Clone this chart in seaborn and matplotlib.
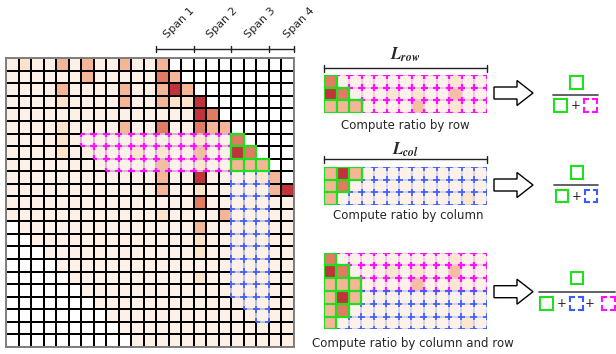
import numpy as np
import matplotlib
matplotlib.use("Agg")
import matplotlib.pyplot as plt
import seaborn as sns
from matplotlib.colors import ListedColormap
from matplotlib.collections import LineCollection
from matplotlib.patches import Rectangle, FancyArrow

sns.set_theme(style="white")
plt.rcParams['font.family'] = ['DejaVu Sans']
plt.rcParams['mathtext.fontset'] = 'stix'

# ---------------------------------------------------------------- data
# attention score level per cell: '.' = outside the window, 1 (faint) .. 5 (strongest)
attn_rows = [
    "1211313113113..........",
    "11111131111143.........",
    "111131111311353........",
    "1111211113113225.......",
    "11111111111111154......",
    "111121111311411433.....",
    "1111211111111112114....",
    "11112111112121131154...",
    "111111111111311211333..",
    "1111111111113115111123.",
    "11111111111131121111135",
    "11111111111111141111111",
    "11111111111121111311111",
    ".1111111111111131111111",
    "..111111111111121111111",
    "...11111111111121111111",
    "....1111111111111111111",
    ".....111111111121111111",
    "......11111111111111111",
    ".......1111111111111111",
    "........111111111111111",
    ".........11111111111111",
    "..........1111111111111",
]
# rows of the current block gathered along the row / along the column
row_panel = [
    "4111111111211",
    "5411121211311",
    "3331111311211",
]
col_panel = [
    "3531111111111",
    "3411111111111",
    "3111111111121",
]
level_colors = ["#ffffff", "#fdf0e6", "#fde3c9", "#f4b697", "#e17c63", "#c1323a"]

span_labels = ["Span 1", "Span 2", "Span 3", "Span 4"]
span_edges = [12, 15, 18, 21, 23]
captions = ["Compute ratio by row", "Compute ratio by column",
            "Compute ratio by column and row"]
length_labels = [r"$\mathbfit{L}_{\mathbfit{row}}$", r"$\mathbfit{L}_{\mathbfit{col}}$"]

block_rows = [6, 7, 8]
block_cols = [18, 19, 20]

GREEN = "#1fe01f"
MAGENTA = "#ff10ff"
BLUE = "#3a5cff"
FAINT = {MAGENTA: "#f2c4e6", BLUE: "#cbd0ef"}

W, H = 616, 354


def parse(rows):
    return np.array([[0 if ch == "." else int(ch) for ch in r] for r in rows])


def cell_edges(cells):
    edges = set()
    for r, c in cells:
        edges |= {((c, r), (c + 1, r)), ((c, r + 1), (c + 1, r + 1)),
                  ((c, r), (c, r + 1)), ((c + 1, r), (c + 1, r + 1))}
    return sorted(edges)


def dashed_region(ax, cells, color, lw, arm=0.28):
    for r, c in cells:
        ax.add_patch(Rectangle((c, r), 1, 1, facecolor="white", alpha=0.12,
                               lw=0, zorder=3))
    edges = cell_edges(cells)
    ax.add_collection(LineCollection(edges, colors=FAINT[color], linewidths=1.3,
                                     zorder=4))
    segs = []
    for (x0, y0), (x1, y1) in edges:
        dx, dy = x1 - x0, y1 - y0
        segs.append([(x0, y0), (x0 + arm * dx, y0 + arm * dy)])
        segs.append([(x1, y1), (x1 - arm * dx, y1 - arm * dy)])
    ax.add_collection(LineCollection(segs, colors=color, linewidths=lw,
                                     zorder=5, capstyle="butt"))


def green_region(ax, cells):
    ax.add_collection(LineCollection(cell_edges(cells), colors=GREEN,
                                     linewidths=1.6, zorder=6,
                                     capstyle="projecting"))


def px_axes(x0, y0, w, h):
    return fig.add_axes([x0 / W, 1 - (y0 + h) / H, w / W, h / H])


def draw_grid(ax, rows, lw):
    sns.heatmap(parse(rows), ax=ax, cmap=ListedColormap(level_colors),
                vmin=-0.5, vmax=5.5, cbar=False, linewidths=lw,
                linecolor="black", xticklabels=False, yticklabels=False)


fig = plt.figure(figsize=(W / 100, H / 100), dpi=100)

# ---------------------------------------------------------------- main grid
ax = px_axes(6, 58.3, 288, 288.5)
draw_grid(ax, attn_rows, 1.1)
for s in ax.spines.values():
    s.set_visible(True)
    s.set_color("#808080")
    s.set_linewidth(1.4)

green = [(r, c) for r in block_rows for c in block_cols
         if c - block_cols[0] <= r - block_rows[0]]
magenta = [(r, c) for r in block_rows for c in range(r, block_cols[0])]
blue = [(r, c) for c in block_cols for r in range(block_rows[-1] + 1, c + 1)]
dashed_region(ax, magenta, MAGENTA, 1.6)
dashed_region(ax, blue, BLUE, 1.2)
green_region(ax, green)

# span bracket above the grid
ax.plot([span_edges[0], span_edges[-1]], [-0.72, -0.72], color="#222", lw=1.0,
        clip_on=False)
for e in span_edges:
    ax.plot([e, e], [-0.95, -0.49], color="#222", lw=1.0, clip_on=False)

# ---------------------------------------------------------------- side panels
n_cols = len(row_panel[0])
ax1 = px_axes(324, 75, 163, 37.6)
draw_grid(ax1, row_panel, 0)
g1 = [(r, c) for r in range(3) for c in range(n_cols) if c <= r]
dashed_region(ax1, [(r, c) for r in range(3) for c in range(n_cols) if c > r],
              MAGENTA, 1.6)
green_region(ax1, g1)

ax2 = px_axes(324, 167, 163, 37.6)
draw_grid(ax2, col_panel, 0)
g2 = [(r, c) for r in range(3) for c in range(n_cols) if c <= 2 - r]
dashed_region(ax2, [(r, c) for r in range(3) for c in range(n_cols) if c > 2 - r],
              BLUE, 1.2)
green_region(ax2, g2)

ax3 = px_axes(323.5, 252.7, 163, 76.6)
draw_grid(ax3, row_panel + col_panel, 0)
dashed_region(ax3, [(r, c) for r in range(3) for c in range(n_cols) if c > r],
              MAGENTA, 1.6)
dashed_region(ax3, [(r + 3, c) for r in range(3) for c in range(n_cols) if c > 2 - r],
              BLUE, 1.2)
green_region(ax3, g1 + [(r + 3, c) for r, c in g2])

for a in (ax1, ax2, ax3):
    for s in a.spines.values():
        s.set_visible(False)

# ---------------------------------------------------------------- annotations
ov = fig.add_axes([0, 0, 1, 1])
ov.set_xlim(0, W)
ov.set_ylim(H, 0)
ov.axis("off")

for lab, x in zip(span_labels, [179.5, 222, 260.5, 299]):
    ov.text(x, 22.5, lab, rotation=45, ha="center", va="center", fontsize=8)

for lab, y_txt, y_br in zip(length_labels, [55, 150], [68, 159]):
    ov.text(405.5, y_txt, lab, ha="center", va="center", fontsize=12)
    ov.plot([324, 487], [y_br, y_br], color="#222", lw=1.0)
    for x in (324, 487):
        ov.plot([x, x], [y_br - 3.5, y_br + 3.5], color="#222", lw=1.0)

for cap, (x, y) in zip(captions, [(405.5, 125), (408, 216), (413, 343)]):
    ov.text(x, y, cap, ha="center", va="center", fontsize=8.5)

for y in (93, 185, 291.7):
    ov.add_patch(FancyArrow(494, y, 39, 0, width=12, head_width=25,
                            head_length=16, length_includes_head=True,
                            fc="white", ec="black", lw=1.0))


def square(cx, cy, kind, size=12.5):
    x0, y0 = cx - size / 2, cy - size / 2
    if kind == "green":
        ov.add_patch(Rectangle((x0, y0), size, size, fill=False, ec=GREEN, lw=1.5))
        return
    color = MAGENTA if kind == "magenta" else BLUE
    pts = [np.array(p) for p in [(x0, y0), (x0 + size, y0),
                                 (x0 + size, y0 + size), (x0, y0 + size)]]
    segs = []
    for i in range(4):
        a, b = pts[i], pts[(i + 1) % 4]
        segs += [[a, a + 0.3 * (b - a)], [b, b - 0.3 * (b - a)]]
    ov.add_collection(LineCollection(segs, colors=color, linewidths=1.5,
                                     capstyle="projecting"))


def fraction(top_x, top_y, x0, x1, line_y, bottom_y, items):
    square(top_x, top_y, "green")
    ov.plot([x0, x1], [line_y, line_y], color="#555", lw=1.3)
    for kind, x in items:
        if kind == "+":
            ov.text(x, bottom_y, "+", ha="center", va="center", fontsize=8.5)
        else:
            square(x, bottom_y, kind)


fraction(576.5, 82.5, 553, 598, 94.5, 105.5,
         [("green", 560.5), ("+", 575.5), ("magenta", 590.5)])
fraction(577, 172.5, 554, 598, 185, 196,
         [("green", 562), ("+", 577), ("blue", 591)])
fraction(577, 278, 539, 615, 292.3, 303.3,
         [("green", 546.7), ("+", 561.7), ("blue", 576.7), ("+", 590),
          ("magenta", 608.5)])

fig.savefig("out.png", dpi=100)
